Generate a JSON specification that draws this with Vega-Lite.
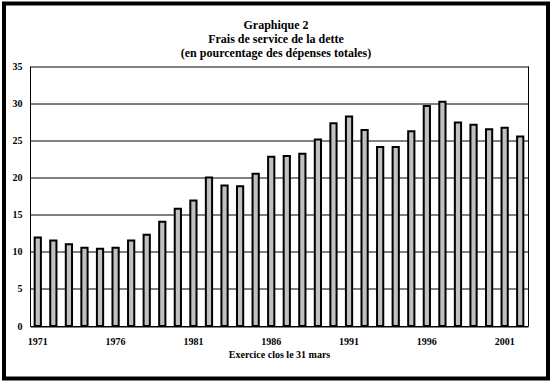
{
  "$schema": "https://vega.github.io/schema/vega-lite/v6.json",
  "autosize": "none",
  "width": 544,
  "height": 375,
  "padding": {"left": 4, "top": 3.5, "right": 5, "bottom": 4.5},
  "background": "white",
  "title": {
    "text": ["Graphique 2", "Frais de service de la dette", "(en pourcentage des dépenses totales)"],
    "font": "Liberation Serif",
    "fontSize": 12,
    "fontWeight": "bold",
    "lineHeight": 14,
    "color": "black",
    "anchor": "middle",
    "frame": "group",
    "baseline": "top",
    "offset": -56
  },
  "data": {
    "values": [
      {"year": 1971, "pct": 11.9}, {"year": 1972, "pct": 11.5}, {"year": 1973, "pct": 11.0},
      {"year": 1974, "pct": 10.55}, {"year": 1975, "pct": 10.4}, {"year": 1976, "pct": 10.55},
      {"year": 1977, "pct": 11.5}, {"year": 1978, "pct": 12.3}, {"year": 1979, "pct": 14.05},
      {"year": 1980, "pct": 15.8}, {"year": 1981, "pct": 16.9}, {"year": 1982, "pct": 20.0},
      {"year": 1983, "pct": 18.9}, {"year": 1984, "pct": 18.8}, {"year": 1985, "pct": 20.5},
      {"year": 1986, "pct": 22.8}, {"year": 1987, "pct": 22.9}, {"year": 1988, "pct": 23.2},
      {"year": 1989, "pct": 25.1}, {"year": 1990, "pct": 27.3}, {"year": 1991, "pct": 28.2},
      {"year": 1992, "pct": 26.4}, {"year": 1993, "pct": 24.1}, {"year": 1994, "pct": 24.1},
      {"year": 1995, "pct": 26.2}, {"year": 1996, "pct": 29.6}, {"year": 1997, "pct": 30.2},
      {"year": 1998, "pct": 27.4}, {"year": 1999, "pct": 27.1}, {"year": 2000, "pct": 26.5},
      {"year": 2001, "pct": 26.7}, {"year": 2002, "pct": 25.5}
    ]
  },
  "layer": [
    {
      "mark": {"type": "bar", "fill": "#c0c0c0", "stroke": "black", "strokeWidth": 2},
      "encoding": {
        "x": {
          "field": "year", "type": "ordinal",
          "scale": {"range": [26, 524], "paddingInner": 0.6, "paddingOuter": 0.3},
          "axis": {
            "orient": "bottom", "offset": -52.5,
            "values": [1971, 1976, 1981, 1986, 1991, 1996, 2001],
            "labelAngle": 0, "ticks": false, "domain": true, "domainColor": "black", "domainWidth": 1,
            "labelPadding": 10,
            "title": "Exercice clos le 31 mars", "titlePadding": 3
          }
        },
        "y": {
          "field": "pct", "type": "quantitative",
          "scale": {"domain": [0, 35], "range": [322.5, 62.5], "nice": false},
          "axis": {
            "orient": "left", "offset": -26,
            "values": [0, 5, 10, 15, 20, 25, 30, 35],
            "grid": true, "gridColor": "black", "gridOpacity": 1, "gridWidth": 1,
            "domain": true, "domainColor": "black", "domainWidth": 1,
            "ticks": false, "labelPadding": 8, "title": null
          }
        }
      }
    },
    {
      "mark": {"type": "bar", "opacity": 0},
      "encoding": {
        "x": {"field": "year", "type": "ordinal"},
        "y": {
          "field": "pct", "type": "quantitative",
          "axis": {
            "orient": "right", "offset": -20, "grid": false, "labels": false, "ticks": false,
            "domain": true, "domainColor": "black", "domainWidth": 1, "title": null
          }
        }
      }
    }
  ],
  "resolve": {"axis": {"y": "independent"}},
  "config": {
    "view": {"stroke": "black", "strokeWidth": 4, "fill": "white"},
    "axis": {
      "labelFont": "Liberation Serif", "labelFontSize": 10, "labelFontWeight": "bold", "labelColor": "black",
      "titleFont": "Liberation Serif", "titleFontSize": 10, "titleFontWeight": "bold", "titleColor": "black"
    }
  }
}
